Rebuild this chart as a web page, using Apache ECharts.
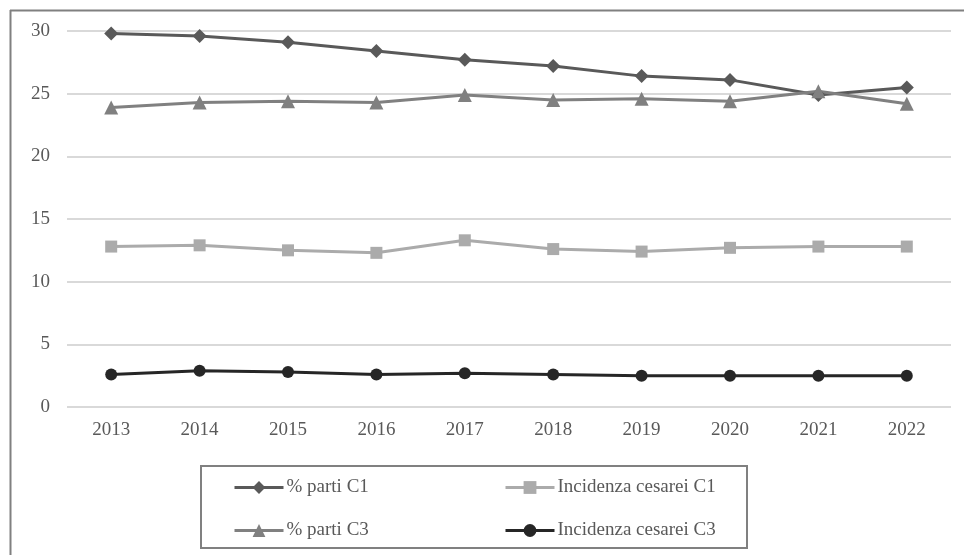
<!DOCTYPE html>
<html>
<head>
<meta charset="utf-8">
<script src="https://cdn.jsdelivr.net/npm/echarts@6/dist/echarts.min.js"></script>
<style>
  html, body { margin: 0; padding: 0; background: #ffffff; }
  #chart { width: 964px; height: 555px; }
</style>
</head>
<body>
<div id="chart"></div>
<script>
// Years on the category axis
const years = ['2013', '2014', '2015', '2016', '2017', '2018', '2019', '2020', '2021', '2022'];

// Series values
const partiC1 = [29.8, 29.6, 29.1, 28.4, 27.7, 27.2, 26.4, 26.1, 24.9, 25.5];
const cesareiC1 = [12.8, 12.9, 12.5, 12.3, 13.3, 12.6, 12.4, 12.7, 12.8, 12.8];
const partiC3 = [23.9, 24.3, 24.4, 24.3, 24.9, 24.5, 24.6, 24.4, 25.2, 24.2];
const cesareiC3 = [2.6, 2.9, 2.8, 2.6, 2.7, 2.6, 2.5, 2.5, 2.5, 2.5];

// Series names
const names = ['% parti C1', 'Incidenza cesarei C1', '% parti C3', 'Incidenza cesarei C3'];

const FONT = '"Liberation Serif", "DejaVu Serif", serif';
const TEXT = '#595959';

const chart = echarts.init(document.getElementById('chart'), null, { renderer: 'canvas' });

function lineSeries(name, data, color, symbol, size) {
  return {
    name: name,
    type: 'line',
    data: data,
    symbol: symbol,
    symbolSize: size,
    lineStyle: { color: color, width: 3 },
    itemStyle: { color: color },
    emphasis: { disabled: true },
    animation: false
  };
}

// one legend block per entry, laid out as a 2x2 table
function legendItem(name, left, top) {
  return {
    data: [name],
    left: left, top: top,
    padding: 0,
    itemWidth: 49, itemHeight: 16,
    lineStyle: { width: 3 },
    textStyle: { fontFamily: FONT, fontSize: 19, color: TEXT, padding: [0, 0, 0, -2] }
  };
}

chart.setOption({
  backgroundColor: '#ffffff',
  animation: false,
  graphic: [
    // outer frame: top and left edges
    { type: 'line', shape: { x1: 10, y1: 10.5, x2: 964, y2: 10.5 }, style: { stroke: '#808080', lineWidth: 2 } },
    { type: 'line', shape: { x1: 10.5, y1: 10, x2: 10.5, y2: 555 }, style: { stroke: '#808080', lineWidth: 2 } },
    // legend frame
    { type: 'rect', shape: { x: 201, y: 466, width: 546, height: 82 }, style: { fill: 'none', stroke: '#808080', lineWidth: 2 } }
  ],
  grid: { left: 67, right: 13, top: 31, bottom: 148 },
  legend: [
    legendItem(names[0], 233, 478),
    legendItem(names[1], 504, 478),
    legendItem(names[2], 233, 521),
    legendItem(names[3], 504, 521)
  ],
  xAxis: {
    type: 'category',
    data: years,
    boundaryGap: true,
    axisLine: { show: false },
    axisTick: { show: false },
    axisLabel: { fontFamily: FONT, fontSize: 19, color: TEXT, margin: 14 }
  },
  yAxis: {
    type: 'value',
    min: 0, max: 30, interval: 5,
    axisLine: { show: false },
    axisTick: { show: false },
    splitLine: { lineStyle: { color: '#d9d9d9', width: 2 } },
    axisLabel: { fontFamily: FONT, fontSize: 19, color: TEXT, margin: 17 }
  },
  series: [
    lineSeries(names[0], partiC1, '#595959', 'diamond', 14),
    lineSeries(names[1], cesareiC1, '#ababab', 'rect', 12),
    lineSeries(names[2], partiC3, '#808080', 'triangle', 14),
    lineSeries(names[3], cesareiC3, '#262626', 'circle', 12)
  ]
});
</script>
</body>
</html>
